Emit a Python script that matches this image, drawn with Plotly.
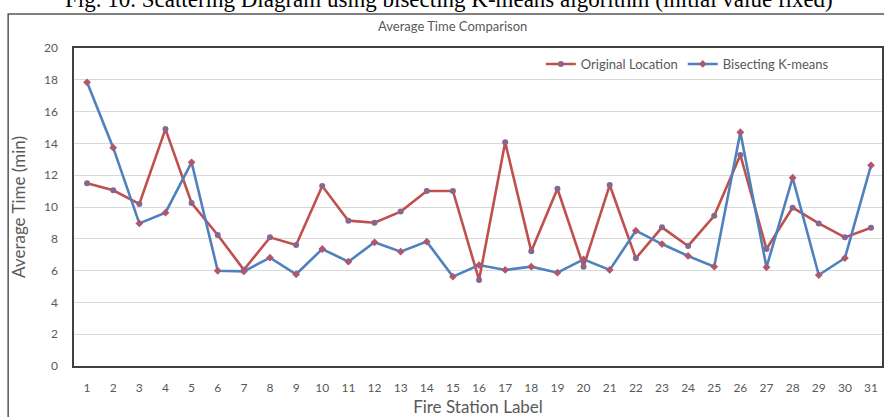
import plotly.graph_objects as go

# Fire station labels 1..31
stations = list(range(1, 32))

# Average response time (min) per station
original_location = [11.49, 11.05, 10.19, 14.90, 10.25, 8.24, 6.05, 8.09, 7.61, 11.32,
                     9.14, 9.01, 9.71, 11.01, 11.01, 5.41, 14.07, 7.21, 11.15, 6.25,
                     11.38, 6.77, 8.72, 7.55, 9.45, 13.27, 7.36, 9.96, 8.97, 8.09, 8.70]
bisecting_kmeans = [17.84, 13.73, 8.97, 9.64, 12.81, 5.99, 5.95, 6.81, 5.77, 7.36,
                    6.56, 7.78, 7.19, 7.82, 5.62, 6.35, 6.04, 6.25, 5.87, 6.71,
                    6.04, 8.51, 7.67, 6.92, 6.25, 14.70, 6.21, 11.84, 5.72, 6.79, 12.62]

y_ticks = list(range(0, 21, 2))

caption = "Fig. 10. Scattering Diagram using bisecting K-means algorithm (initial value fixed)"

W, H = 884, 417
L, R, T, B = 74, 0, 48, 51
pw, ph = W - L - R, H - T - B


def px_x(p):
    return (p - L) / pw


def px_y(p):
    return (H - B - p) / ph


grey = "#595959"
font_family = "Lato, 'Open Sans', sans-serif"

fig = go.Figure()
fig.add_trace(go.Scatter(
    x=stations, y=original_location, name="Original Location",
    mode="lines+markers",
    line=dict(color="#C0504D", width=2.6),
    marker=dict(symbol="circle", size=6, color="#86678F"),
))
fig.add_trace(go.Scatter(
    x=stations, y=bisecting_kmeans, name="Bisecting K-means",
    mode="lines+markers",
    line=dict(color="#4F81BD", width=2.6),
    marker=dict(symbol="diamond", size=6, color="#B0566E"),
))

fig.update_layout(
    width=W, height=H,
    margin=dict(l=L, r=R, t=T, b=B, pad=0),
    paper_bgcolor="white", plot_bgcolor="white",
    font=dict(family=font_family, color=grey, size=12),
    showlegend=True,
    legend=dict(
        orientation="h", x=px_x(542), xanchor="left",
        y=px_y(64), yanchor="middle",
        font=dict(size=13, color=grey), bgcolor="rgba(0,0,0,0)",
        itemwidth=30, tracegroupgap=0,
    ),
    xaxis=dict(
        range=[0.5, 31.42], tickmode="array", tickvals=stations,
        ticktext=[str(s) for s in stations],
        showgrid=False, zeroline=False,
        showline=True, linecolor="#404040", linewidth=1.5, mirror=True,
        ticks="", ticklabelstandoff=10,
        tickfont=dict(size=12, color=grey),
        title=dict(text="Fire Station Label", font=dict(size=17, color=grey), standoff=7),
    ),
    yaxis=dict(
        range=[0, 20], tickmode="array", tickvals=y_ticks,
        showgrid=True, gridcolor="#D9D9D9", gridwidth=1, zeroline=False,
        showline=True, linecolor="#404040", linewidth=1.5, mirror=True,
        ticks="", ticklabelstandoff=12,
        tickfont=dict(size=12, color=grey),
        title=dict(text="Average Time (min)", font=dict(size=17, color=grey), standoff=14),
    ),
)

# Outer frame of the figure panel
fig.add_shape(type="rect", xref="paper", yref="paper",
              x0=px_x(8), x1=px_x(W + 10), y0=px_y(H + 10), y1=px_y(14),
              line=dict(color="#555555", width=1.5), fillcolor="rgba(0,0,0,0)",
              layer="below")

# Chart title
fig.add_annotation(text="Average Time Comparison", xref="paper", yref="paper",
                   x=px_x(453), y=px_y(26), xanchor="center", yanchor="middle",
                   showarrow=False, font=dict(size=13, color=grey))

# Figure caption above the panel
fig.add_annotation(text=caption, xref="paper", yref="paper",
                   x=px_x(450), y=px_y(14), xanchor="center", yanchor="bottom",
                   showarrow=False,
                   font=dict(family="'Liberation Serif', 'Times New Roman', serif",
                             size=23, color="black"))

fig.write_html("out.html")
